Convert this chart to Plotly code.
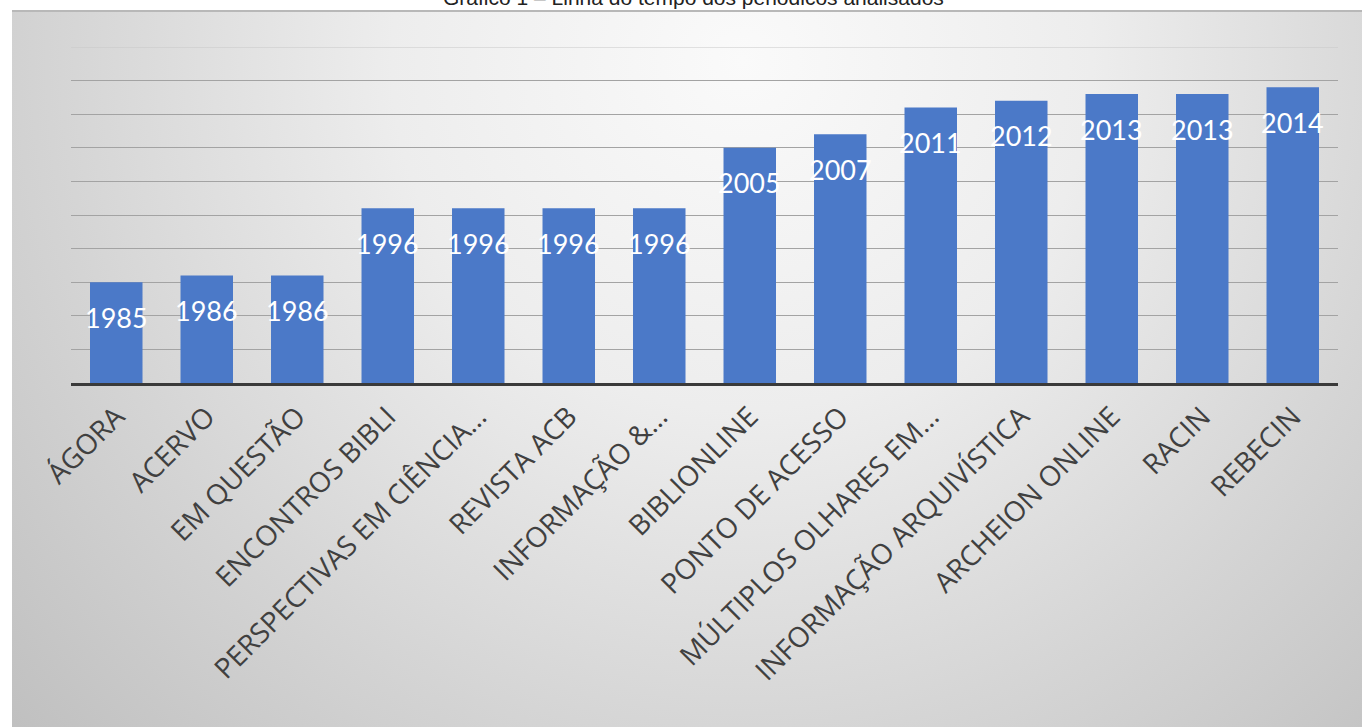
import base64
import plotly.graph_objects as go

categories = ["ÁGORA", "ACERVO", "EM QUESTÃO", "ENCONTROS BIBLI",
              "PERSPECTIVAS EM CIÊNCIA…", "REVISTA ACB", "INFORMAÇÃO &…",
              "BIBLIONLINE", "PONTO DE ACESSO", "MÚLTIPLOS OLHARES EM…",
              "INFORMAÇÃO ARQUIVÍSTICA", "ARCHEION ONLINE", "RACIN", "REBECIN"]
years = [1985, 1986, 1986, 1996, 1996, 1996, 1996, 2005, 2007, 2011, 2012, 2013, 2013, 2014]
y_range = [1970, 2020]
title_text = "Gráfico 1 – Linha do tempo dos periódicos analisados"

W, H = 1362, 727
L, R, T, B = 71, 24, 47, 344
pw, ph = W - L - R, H - T - B

# background gradient (chart area box)
bx0, by0 = 12, 10
bw, bh = W - bx0, H - by0
svg = f"""<svg xmlns='http://www.w3.org/2000/svg' width='{bw}' height='{bh}' viewBox='0 0 {bw} {bh}' preserveAspectRatio='none'>
<defs><radialGradient id='g' gradientUnits='userSpaceOnUse' cx='730' cy='50' r='1000'>
<stop offset='0' stop-color='#fafafa'/>
<stop offset='0.35' stop-color='#ededed'/>
<stop offset='0.68' stop-color='#d5d5d5'/>
<stop offset='1' stop-color='#bfbfbf'/>
</radialGradient></defs>
<rect x='0' y='0' width='{bw}' height='{bh}' fill='url(#g)'/>
<rect x='0' y='0' width='{bw}' height='2' fill='#b8b8b8'/>
</svg>"""
src = "data:image/svg+xml;base64," + base64.b64encode(svg.encode("utf-8")).decode("ascii")

def px_x(p):
    return (p - L) / pw

def px_y(p):
    return (H - B - p) / ph

fig = go.Figure()
fig.add_trace(go.Bar(
    x=categories, y=years,
    marker=dict(color="#4b79c8", line=dict(width=0)),
    hoverinfo="x+y",
))

annotations = []
for c, v in zip(categories, years):
    annotations.append(dict(
        x=c, y=v, xref="x", yref="y", text=str(v), showarrow=False,
        yshift=-35, font=dict(family="Lato", size=27, color="white"),
    ))
annotations.append(dict(
    x=px_x(693), y=px_y(11), xref="paper", yref="paper",
    xanchor="center", yanchor="bottom", text=title_text, showarrow=False,
    font=dict(family="Liberation Sans, Arial", size=21, color="#222222"),
))

fig.update_layout(
    width=W, height=H,
    margin=dict(l=L, r=R, t=T, b=B, autoexpand=False),
    paper_bgcolor="white",
    plot_bgcolor="rgba(0,0,0,0)",
    showlegend=False,
    bargap=0.42,
    annotations=annotations,
    shapes=[dict(type="line", xref="paper", yref="y", x0=0, x1=1,
                 y0=y_range[1], y1=y_range[1],
                 line=dict(color="#c8c8c8", width=1.2), layer="below")],
    images=[dict(
        source=src, xref="paper", yref="paper",
        x=px_x(bx0), y=px_y(by0), sizex=bw / pw, sizey=bh / ph,
        xanchor="left", yanchor="top", sizing="stretch", layer="below",
    )],
    xaxis=dict(
        showline=True, linecolor="#3a3a3a", linewidth=3,
        tickangle=-45, ticks="", showgrid=False,
        ticklabelstandoff=3,
        tickfont=dict(family="Open Sans", size=28, color="#404040"),
    ),
    yaxis=dict(
        range=y_range, tick0=y_range[0], dtick=5,
        showticklabels=False, ticks="",
        showgrid=True, gridcolor="#a3a3a3", gridwidth=1.2,
        zeroline=False, showline=False,
    ),
)

fig.write_html("out.html")
